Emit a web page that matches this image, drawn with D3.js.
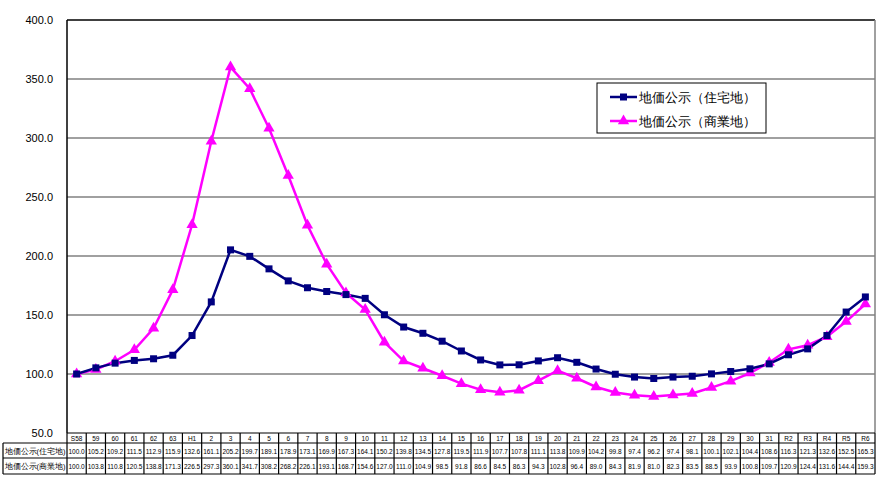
<!DOCTYPE html>
<html><head><meta charset="utf-8">
<script src="https://cdn.jsdelivr.net/npm/d3@7"></script>
<style>body{margin:0;background:#fff}svg{display:block}text{font-family:"Liberation Sans",Arial,sans-serif}</style>
</head><body>
<svg id="c" width="878" height="477"></svg>
<script>
const categories = ["S58","59","60","61","62","63","H1","2","3","4","5","6","7","8","9","10","11","12","13","14","15","16","17","18","19","20","21","22","23","24","25","26","27","28","29","30","31","R2","R3","R4","R5","R6"];
const residential = [100.0,105.2,109.2,111.5,112.9,115.9,132.6,161.1,205.2,199.7,189.1,178.9,173.1,169.9,167.3,164.1,150.2,139.8,134.5,127.8,119.5,111.9,107.7,107.8,111.1,113.8,109.9,104.2,99.8,97.4,96.2,97.4,98.1,100.1,102.1,104.4,108.6,116.3,121.3,132.6,152.5,165.3];
const commercial = [100.0,103.8,110.8,120.5,138.8,171.3,226.5,297.3,360.1,341.7,308.2,268.2,226.1,193.1,168.7,154.6,127.0,111.0,104.9,98.5,91.8,86.6,84.5,86.3,94.3,102.8,96.4,89.0,84.3,81.9,81.0,82.3,83.5,88.5,93.9,100.8,109.7,120.9,124.4,131.6,144.4,159.3];
const yTicks = [50,100,150,200,250,300,350,400];
const seriesNames = ["地価公示(住宅地)","地価公示(商業地)"];

const svg = d3.select("#c");
const L=67,R=875,T=20,B=433;
const x = d3.scaleBand().domain(categories).range([L,R]);
const y = d3.scaleLinear().domain([50,400]).range([B,T]);

// gridlines
svg.append("g").selectAll("line").data(yTicks.filter(v=>v>50&&v<400)).join("line")
  .attr("x1",L).attr("x2",R).attr("y1",d=>y(d)).attr("y2",d=>y(d))
  .attr("stroke","#808080").attr("stroke-width",1.5);
// border
svg.append("line").attr("x1",L).attr("x2",R).attr("y1",T).attr("y2",T).attr("stroke","#000").attr("stroke-width",1.5);
svg.append("line").attr("x1",R).attr("x2",R).attr("y1",T).attr("y2",B).attr("stroke","#808080").attr("stroke-width",1.5);
svg.append("line").attr("x1",L).attr("x2",L).attr("y1",T).attr("y2",B).attr("stroke","#000").attr("stroke-width",1.5);

// y axis labels
const ya = svg.append("g").attr("transform",`translate(${L},0)`)
  .call(d3.axisLeft(y).tickValues(yTicks).tickFormat(d3.format(".1f")).tickSize(0).tickPadding(14));
ya.select(".domain").remove();
ya.selectAll("text").attr("font-size",11).attr("fill","#000").attr("font-family","Liberation Sans, Arial");

// lines
const line = d3.line().x((d,i)=>x(categories[i])+x.bandwidth()/2).y(d=>y(d));
svg.append("path").datum(commercial).attr("d",line).attr("fill","none").attr("stroke","#ff00ff").attr("stroke-width",2.5);
svg.append("path").datum(residential).attr("d",line).attr("fill","none").attr("stroke","#000080").attr("stroke-width",2.5);
// markers
const tri = d3.symbol().type(d3.symbolTriangle).size(55);
svg.append("g").selectAll("path").data(commercial).join("path")
  .attr("d",tri).attr("fill","#ff00ff")
  .attr("transform",(d,i)=>`translate(${x(categories[i])+x.bandwidth()/2},${y(d)})`);
svg.append("g").selectAll("rect").data(residential).join("rect")
  .attr("x",(d,i)=>x(categories[i])+x.bandwidth()/2-3.5).attr("y",d=>y(d)-3.5)
  .attr("width",7).attr("height",7).attr("fill","#000080");

// data table
const tb = svg.append("g");
const rowY=[B,443,458,474];
const tl=3;
tb.append("line").attr("x1",L).attr("x2",R).attr("y1",B).attr("y2",B).attr("stroke","#000").attr("stroke-width",1.2);
tb.append("line").attr("x1",tl).attr("x2",R).attr("y1",rowY[1]).attr("y2",rowY[1]).attr("stroke","#000").attr("stroke-width",1.2);
tb.append("line").attr("x1",tl).attr("x2",R).attr("y1",rowY[2]).attr("y2",rowY[2]).attr("stroke","#000").attr("stroke-width",1.2);
tb.append("line").attr("x1",tl).attr("x2",R).attr("y1",rowY[3]).attr("y2",rowY[3]).attr("stroke","#000").attr("stroke-width",1.2);
tb.append("line").attr("x1",tl).attr("x2",tl).attr("y1",rowY[1]).attr("y2",rowY[3]).attr("stroke","#000").attr("stroke-width",1.2);
tb.selectAll("line.v").data(categories).join("line").attr("class","v")
  .attr("x1",d=>x(d)).attr("x2",d=>x(d)).attr("y1",B).attr("y2",rowY[3]).attr("stroke","#000").attr("stroke-width",1.2);
tb.append("line").attr("x1",R).attr("x2",R).attr("y1",B).attr("y2",rowY[3]).attr("stroke","#000").attr("stroke-width",1.2);
tb.selectAll("text.h").data(categories).join("text").attr("class","h")
  .attr("x",d=>x(d)+x.bandwidth()/2).attr("y",441).attr("text-anchor","middle")
  .attr("font-size",6.5).attr("fill","#000").text(d=>d);
[residential,commercial].forEach((arr,k)=>{
  tb.selectAll("text.r"+k).data(arr).join("text").attr("class","r"+k)
    .attr("x",(d,i)=>x(categories[i])+x.bandwidth()/2).attr("y",rowY[k+1]+10.5).attr("text-anchor","middle")
    .attr("font-size",6.5).attr("fill","#000").text(d=>d.toFixed(1));
  tb.append("text").attr("x",(tl+L)/2).attr("y",rowY[k+1]+10.5).attr("text-anchor","middle")
    .attr("font-size",7.5).attr("font-family","Noto Sans CJK JP").attr("fill","#000").text(seriesNames[k]);
});

// legend
const lg = svg.append("g");
lg.append("rect").attr("x",597).attr("y",83).attr("width",169).attr("height",50).attr("fill","#fff").attr("stroke","#000").attr("stroke-width",1);
[["#000080","sq"],["#ff00ff","tri"]].forEach((s,k)=>{
  const yy = 97+k*24;
  lg.append("line").attr("x1",610).attr("x2",637).attr("y1",yy).attr("y2",yy).attr("stroke",s[0]).attr("stroke-width",2.5);
  if(s[1]==="sq") lg.append("rect").attr("x",620).attr("y",yy-3.5).attr("width",7).attr("height",7).attr("fill",s[0]);
  else lg.append("path").attr("d",tri).attr("fill",s[0]).attr("transform",`translate(623.5,${yy})`);
  lg.append("text").attr("x",639).attr("y",yy+5).attr("font-size",13).attr("font-family","Noto Sans CJK JP").attr("fill","#000").text(seriesNames[k].replace("(","（").replace(")","）"));
});
</script>
</body></html>
